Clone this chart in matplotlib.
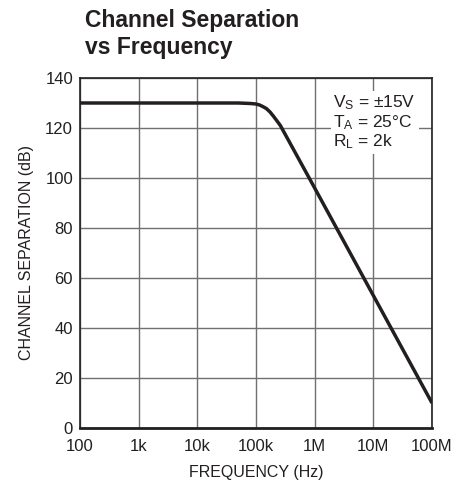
import matplotlib
matplotlib.use("Agg")
import matplotlib.pyplot as plt
from matplotlib import font_manager as fm

names = {f.name for f in fm.fontManager.ttflist}
fam = ["Liberation Sans Narrow", "DejaVu Sans"] if "Liberation Sans Narrow" in names else ["Liberation Sans", "DejaVu Sans"]
plt.rcParams['font.family'] = fam
plt.rcParams['mathtext.fontset'] = 'custom'
plt.rcParams['mathtext.rm'] = fam[0]
plt.rcParams['mathtext.it'] = fam[0]

freq = [100, 1e3, 1e4, 5e4, 8e4, 1e5, 1.15e5, 1.3e5, 1.5e5, 1.75e5, 2e5, 2.3e5, 2.6e5, 1e6, 1e7, 1e8]
sep = [130, 130, 130, 130, 129.8, 129.6, 129.2, 128.6, 127.8, 126.3, 124.6, 122.7, 121, 96, 53, 10]
xticks = [1e2, 1e3, 1e4, 1e5, 1e6, 1e7, 1e8]
xlabels = ["100", "1k", "10k", "100k", "1M", "10M", "100M"]
yticks = [0, 20, 40, 60, 80, 100, 120, 140]

fig = plt.figure(figsize=(4.74, 4.91), dpi=100)
ax = fig.add_axes([80/474, 1-428/491, 352/474, 350/491])
ax.plot(freq, sep, color="#231f20", lw=2.5, solid_capstyle='butt', solid_joinstyle='round')
ax.set_xscale('log')
ax.set_xlim(1e2, 1e8)
ax.set_ylim(0, 140)
ax.set_xticks(xticks)
ax.set_xticklabels(xlabels)
ax.xaxis.set_minor_locator(matplotlib.ticker.NullLocator())
ax.set_yticks(yticks)
ax.grid(True, color="#707070", lw=1.0)
ax.tick_params(length=0, labelsize=12, colors="#231f20")
ax.tick_params(axis='x', pad=8)
ax.tick_params(axis='y', pad=5)
for s in ax.spines.values():
    s.set_color("#231f20"); s.set_linewidth(1.2)
ax.spines['bottom'].set_linewidth(2)
ax.set_xlabel("FREQUENCY (Hz)", fontsize=11.5, color="#231f20", labelpad=8)
ax.set_ylabel("CHANNEL SEPARATION (dB)", fontsize=11.5, color="#231f20", labelpad=8)

ax.text(0.72, 0.955, "V$_\\mathregular{S}$ = ±15V\nT$_\\mathregular{A}$ = 25°C\nR$_\\mathregular{L}$ = 2k",
        transform=ax.transAxes, fontsize=12.5, va='top', ha='left', color="#231f20",
        linespacing=1.05,
        bbox=dict(facecolor='white', edgecolor='none', pad=2))

fig.text(85/474, 1-9/491, "Channel Separation\nvs Frequency", fontsize=16.5, fontweight='bold',
         va='top', ha='left', color="#231f20", linespacing=1.2)
fig.savefig("out.png", dpi=100, facecolor='white')
